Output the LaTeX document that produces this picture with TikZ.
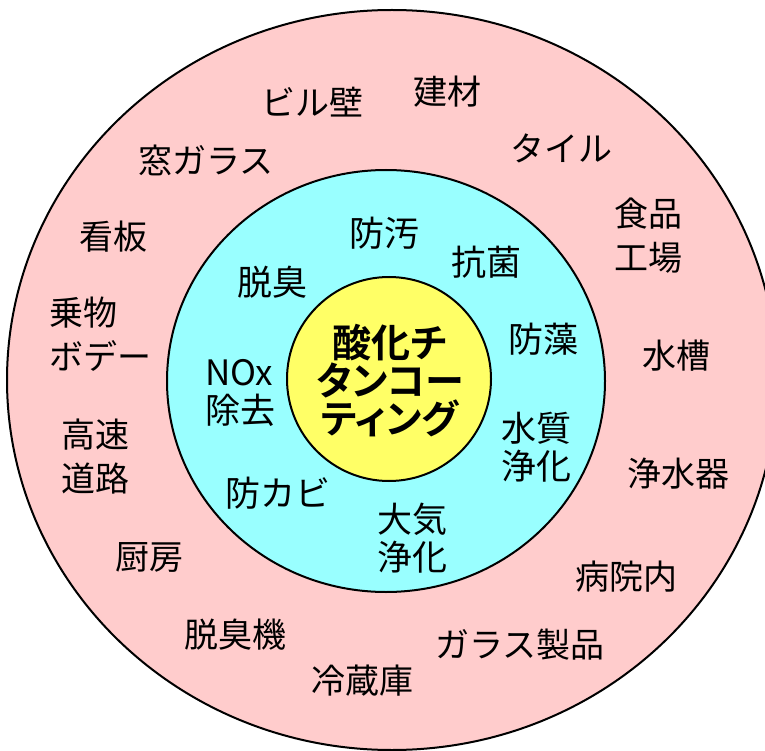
\documentclass[tikz,border=0pt]{standalone}
\usepackage{fontspec}
\setmainfont{Noto Sans CJK JP}[BoldFont={* Bold}]
\newfontfamily\corefont{Noto Sans CJK JP Bold}[RawFeature=+palt]
\definecolor{ringpink}{RGB}{255,204,204}
\definecolor{ringcyan}{RGB}{153,255,255}
\definecolor{coreyellow}{RGB}{255,255,102}
\tikzset{
  use/.style={font=\fontsize{34}{44}\selectfont, align=center, inner sep=0pt},
  effect/.style={font=\fontsize{35}{38}\selectfont, align=center, inner sep=0pt},
  core/.style={font=\corefont\fontsize{39}{38}\selectfont, align=center, inner sep=0pt}
}

\begin{document}
\begin{tikzpicture}[x=1pt, y=-1pt]
\useasboundingbox (0,0) rectangle (765,751);
\clip (0,0) rectangle (765,751);
% rings
\draw[line width=2pt, fill=ringpink] (392,380) ellipse [x radius=385pt, y radius=370pt];
\draw[line width=2pt, fill=ringcyan] (386,381) ellipse [x radius=219pt, y radius=211pt];
\draw[line width=2pt, fill=coreyellow] (389,379) circle [radius=102pt];
\node[core] (coat) at (390,381) {酸化チ\\タンコー\\ティング};
% effects
\node[effect] (bousen) at (384,233) {防汚};
\node[effect] (kokin) at (486,262) {抗菌};
\node[effect] (dassyu) at (272,282) {脱臭};
\node[effect] (bouso) at (543,339) {防藻};
\node[effect, align=left] (nox) at (240,393) {NOx\\除去};
\node[effect] (suishitsu) at (536,447) {水質\\浄化};
\node[effect] (taiki) at (412,538) {大気\\浄化};
\node[effect] (boukabi) at (278,493) {防カビ};
% uses
\node[use] (biru) at (312,102) {ビル壁};
\node[use] (kenzai) at (447,92) {建材};
\node[use] (tairu) at (561,148) {タイル};
\node[use] (mado) at (206,160) {窓ガラス};
\node[use] (shokuhin) at (648,236) {食品\\工場};
\node[use] (suisou) at (676,356) {水槽};
\node[use] (jousui) at (678,474) {浄水器};
\node[use] (kanban) at (113,237) {看板};
\node[use, align=left] (norimono) at (100,334) {乗物\\ボデー};
\node[use] (kousoku) at (95,457) {高速\\道路};
\node[use] (chubou) at (149,557) {厨房};
\node[use] (byouin) at (626,577) {病院内};
\node[use] (dassyuki) at (235,635) {脱臭機};
\node[use] (garasu) at (520,645) {ガラス製品};
\node[use] (reizou) at (362,681) {冷蔵庫};
\end{tikzpicture}
\end{document}
